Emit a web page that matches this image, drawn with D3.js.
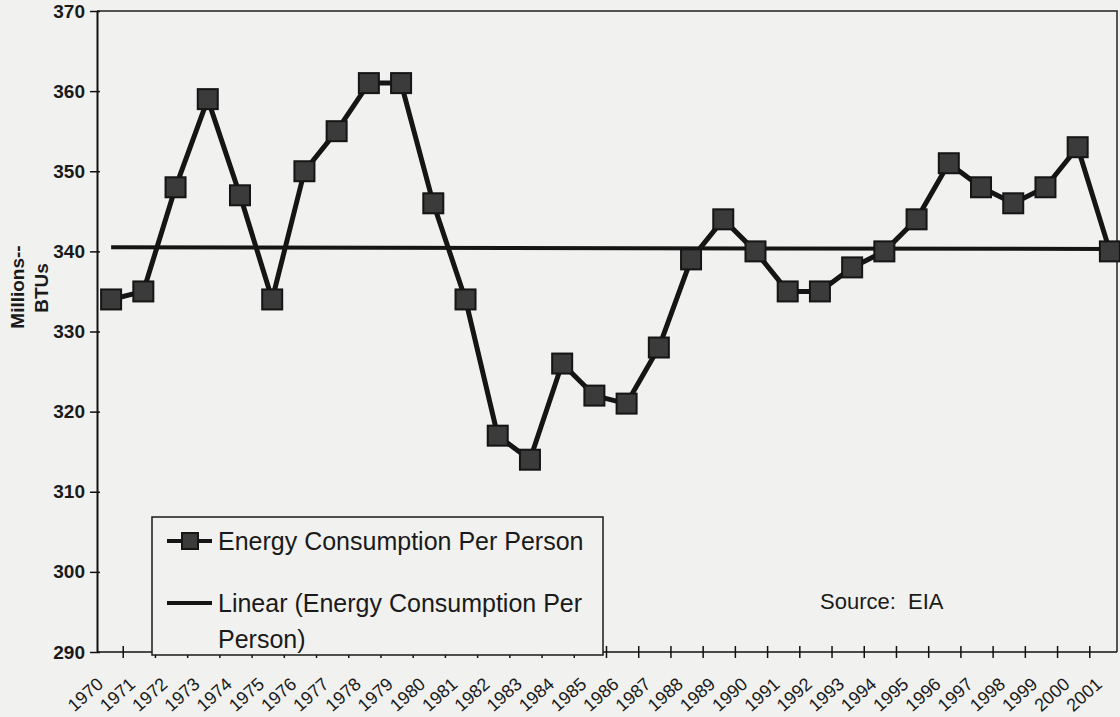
<!DOCTYPE html>
<html>
<head>
<meta charset="utf-8">
<script src="https://cdn.jsdelivr.net/npm/d3@7"></script>
<style>
  html, body { margin: 0; padding: 0; background: #f1f1ef; }
  svg { display: block; font-family: Arial, "Liberation Sans", sans-serif; }
</style>
</head>
<body>
<svg id="chart"></svg>
<script>
// data
const years = ['1970','1971','1972','1973','1974','1975','1976','1977','1978','1979',
  '1980','1981','1982','1983','1984','1985','1986','1987','1988','1989',
  '1990','1991','1992','1993','1994','1995','1996','1997','1998','1999',
  '2000','2001'];
const consumption = [334, 335, 348, 359, 347, 334, 350, 355, 361, 361,
  346, 334, 317, 314, 326, 322, 321, 328, 339, 344,
  340, 335, 335, 338, 340, 344, 351, 348, 346, 348,
  353, 340];
const yTicks = [290, 300, 310, 320, 330, 340, 350, 360, 370];
const legendLabels = ['Energy Consumption Per Person', ['Linear (Energy Consumption Per', 'Person)']];

const W = 1120, H = 717;
const plot = { left: 97, top: 11, right: 1117, bottom: 652 };

const svg = d3.select('#chart').attr('width', W).attr('height', H);

svg.append('rect').attr('width', W).attr('height', H).attr('fill', '#f1f1ef');

const x = d3.scaleBand()
  .domain(years)
  .range([95, 1126])
  .padding(0);
const cx = d => x(d) + x.bandwidth() / 2;

const y = d3.scaleLinear()
  .domain([290, 370])
  .range([plot.bottom, plot.top]);

// frame (top + right)
svg.append('path')
  .attr('d', `M${plot.left},${plot.top}H${plot.right}V${plot.bottom}`)
  .attr('fill', 'none')
  .attr('stroke', '#222')
  .attr('stroke-width', 1.5);

// y axis
const yAxis = d3.axisLeft(y).tickValues(yTicks).tickSizeInner(10).tickSizeOuter(0).tickPadding(4);
const gy = svg.append('g')
  .attr('transform', `translate(${plot.left},0)`)
  .call(yAxis);
gy.select('.domain').attr('stroke', '#111').attr('stroke-width', 2);
gy.selectAll('.tick line').attr('x2', 3).attr('x1', -7).attr('stroke', '#111').attr('stroke-width', 1.5);
gy.selectAll('.tick text')
  .attr('x', -12)
  .attr('font-size', 19)
  .attr('font-weight', 'bold')
  .attr('fill', '#1a1a1a');

// x axis (ticks between categories)
const gx = svg.append('g').attr('transform', `translate(0,${plot.bottom})`);
gx.append('line')
  .attr('x1', plot.left).attr('x2', plot.right)
  .attr('stroke', '#111').attr('stroke-width', 1.5);
gx.selectAll('line.tick')
  .data(years.slice(1))
  .join('line')
  .attr('class', 'tick')
  .attr('x1', d => x(d) - 4).attr('x2', d => x(d) - 4)
  .attr('y1', -6).attr('y2', 6)
  .attr('stroke', '#111').attr('stroke-width', 1.5);
gx.selectAll('text.lbl')
  .data(years)
  .join('text')
  .attr('class', 'lbl')
  .attr('transform', d => `translate(${cx(d) - 11},${29}) rotate(-42)`)
  .attr('text-anchor', 'end')
  .attr('dy', '0.35em')
  .style('font-size', '18px')
  .attr('fill', '#1a1a1a')
  .text(d => d);

// axis title
svg.append('text')
  .attr('transform', 'translate(17,287) rotate(-90)')
  .attr('text-anchor', 'middle')
  .attr('dy', '0.35em')
  .style('font-size', '19px')
  .attr('font-weight', 'bold')
  .attr('fill', '#1a1a1a')
  .text('Millions--');
svg.append('text')
  .attr('transform', 'translate(41,288) rotate(-90)')
  .attr('text-anchor', 'middle')
  .attr('dy', '0.35em')
  .style('font-size', '19px')
  .attr('font-weight', 'bold')
  .attr('fill', '#1a1a1a')
  .text('BTUs');

// linear trend, least squares over the series
const n = consumption.length;
const xi = d3.range(n);
const mx = d3.mean(xi), my = d3.mean(consumption);
const slope = d3.sum(xi, i => (i - mx) * (consumption[i] - my)) / d3.sum(xi, i => (i - mx) ** 2);
const icpt = my - slope * mx;
const trend = [0, n - 1].map(i => ({ year: years[i], value: icpt + slope * i }));

svg.append('path')
  .datum(trend)
  .attr('fill', 'none')
  .attr('stroke', '#151515')
  .attr('stroke-width', 4)
  .attr('d', d3.line().x(d => cx(d.year)).y(d => y(d.value)));

// main series
const series = years.map((yr, i) => ({ year: yr, value: consumption[i] }));
svg.append('path')
  .datum(series)
  .attr('fill', 'none')
  .attr('stroke', '#151515')
  .attr('stroke-width', 5)
  .attr('stroke-linejoin', 'round')
  .attr('d', d3.line().x(d => cx(d.year)).y(d => y(d.value)));

const ms = 20;
svg.selectAll('rect.marker')
  .data(series)
  .join('rect')
  .attr('class', 'marker')
  .attr('x', d => cx(d.year) - ms / 2)
  .attr('y', d => y(d.value) - ms / 2)
  .attr('width', ms).attr('height', ms)
  .attr('fill', '#3b3b3b')
  .attr('stroke', '#151515')
  .attr('stroke-width', 2);

// legend
const lg = svg.append('g');
lg.append('rect')
  .attr('x', 152).attr('y', 517).attr('width', 451).attr('height', 138)
  .attr('fill', '#f1f1ef').attr('stroke', '#1a1a1a').attr('stroke-width', 1.5);

lg.append('line').attr('x1', 167).attr('x2', 212).attr('y1', 541).attr('y2', 541)
  .attr('stroke', '#151515').attr('stroke-width', 4);
lg.append('rect').attr('x', 182).attr('y', 533).attr('width', 16).attr('height', 16)
  .attr('fill', '#3b3b3b').attr('stroke', '#151515').attr('stroke-width', 2);
lg.append('text').attr('x', 218).attr('y', 550).attr('font-size', 25).attr('fill', '#1a1a1a')
  .text(legendLabels[0]);

lg.append('line').attr('x1', 167).attr('x2', 212).attr('y1', 603).attr('y2', 603)
  .attr('stroke', '#151515').attr('stroke-width', 4);
const t2 = lg.append('text').attr('font-size', 25).attr('fill', '#1a1a1a');
legendLabels[1].forEach((s, i) => {
  t2.append('tspan').attr('x', 218).attr('y', 612 + i * 36).text(s);
});

svg.append('text')
  .attr('x', 820).attr('y', 609)
  .attr('font-size', 22)
  .attr('fill', '#1a1a1a')
  .attr('xml:space', 'preserve')
  .text('Source:  EIA');
</script>
</body>
</html>
